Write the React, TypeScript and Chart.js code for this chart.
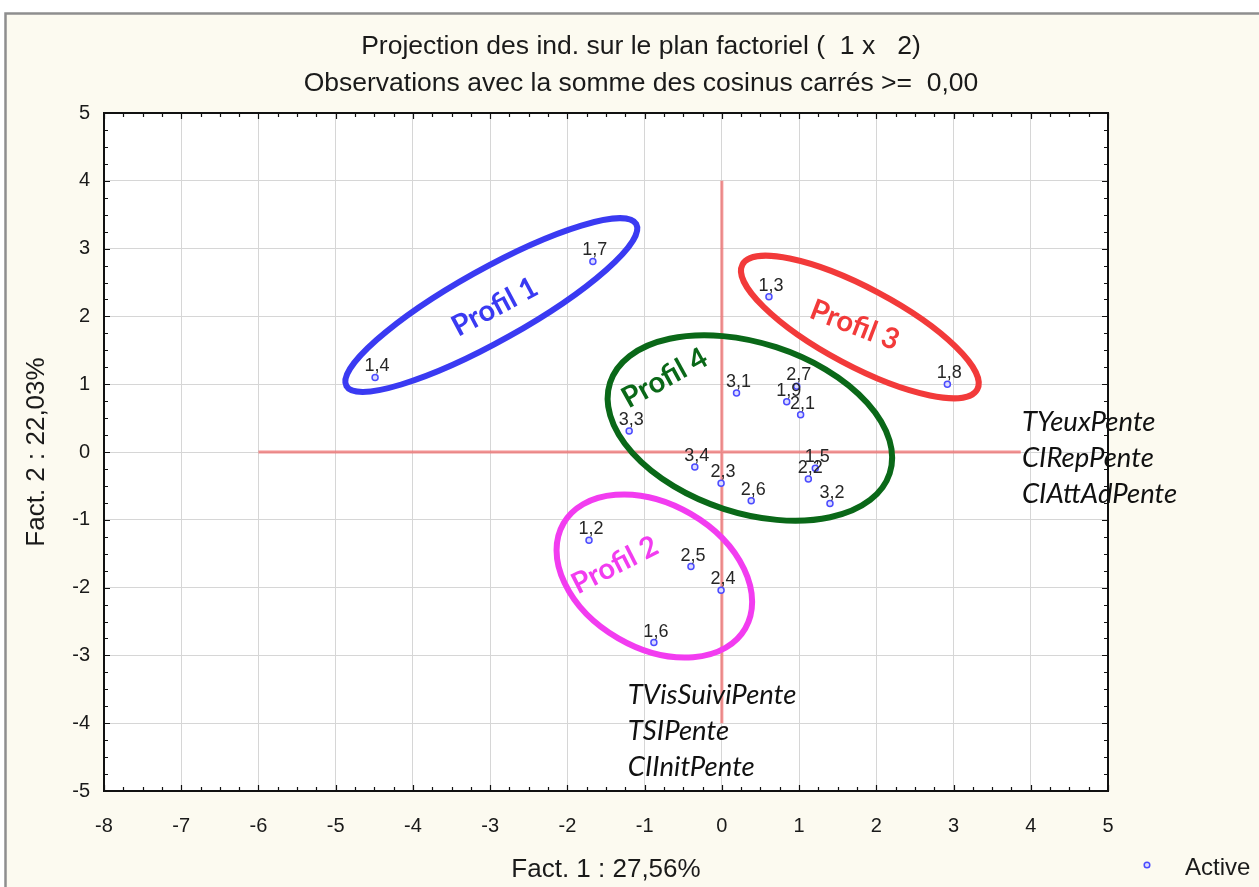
import React, { useEffect, useRef } from "react";
import { Chart, registerables } from "chart.js";

Chart.register(...registerables);

// ---------- data ----------
const pointLabels = ["1,7", "1,4", "1,3", "1,8", "3,1", "2,7", "1,9", "2,1", "3,3", "3,4", "2,3", "2,6", "1,5", "2,2", "3,2", "1,2", "2,5", "2,4", "1,6"];
const fact1 = [-1.67, -4.49, 0.61, 2.92, 0.19, 0.97, 0.84, 1.02, -1.2, -0.35, -0.01, 0.38, 1.21, 1.12, 1.4, -1.72, -0.4, -0.01, -0.88];
const fact2 = [2.81, 1.1, 2.29, 1.0, 0.87, 0.97, 0.74, 0.55, 0.31, -0.22, -0.46, -0.72, -0.24, -0.4, -0.76, -1.3, -1.69, -2.04, -2.81];

const xTickValues = [-8, -7, -6, -5, -4, -3, -2, -1, 0, 1, 2, 3, 4, 5];
const yTickValues = [-5, -4, -3, -2, -1, 0, 1, 2, 3, 4, 5];

const titleLines = [
  "Projection des ind. sur le plan factoriel (  1 x   2)",
  "Observations avec la somme des cosinus carrés >=  0,00",
];
const xAxisTitle = "Fact. 1 : 27,56%";
const yAxisTitle = "Fact. 2 : 22,03%";
const legendLabel = "Active";

// reference cross (data units)
const refHorizontal = [-6, 3.87]; // along y = 0
const refVertical = [-4, 4]; // along x = 0

// profile groups (ellipse centres and label anchors in data units)
const profileNames = ["Profil 1", "Profil 2", "Profil 3", "Profil 4"];
const profileCx = [-2.985, -0.874, 1.787, 0.363];
const profileCy = [2.168, -1.829, 1.844, 0.354];
const profileTextX = [-2.94, -1.385, 1.72, -0.74];
const profileTextY = [2.14, -1.667, 1.87, 1.09];

// variable annotations
const rightVars = ["TYeuxPente", "CIRepPente", "CIAttAdPente"];
const rightVarsAnchor = [3.885, 0.44];
const lowerVars = ["TVisSuiviPente", "TSIPente", "CIInitPente"];
const lowerVarsAnchor = [-1.217, -3.58];

// ---------- styles ----------
const PROFILE_STYLE = [
  { color: "#3a3af2", rx: 166, ry: 36, angle: -29.2, textAngle: -28 },
  { color: "#f23cf0", rx: 105, ry: 72, angle: 30, textAngle: -27 },
  { color: "#f23a3a", rx: 133, ry: 39, angle: 28, textAngle: 21 },
  { color: "#0a6818", rx: 147, ry: 85, angle: 18, textAngle: -29 },
];
const FONT = "'Liberation Sans', Arial, sans-serif";
const TEXT = "#1a1a1a";
const W = 1259;
const H = 887;

const decorPlugin = {
  id: "decor",
  beforeDraw(chart: any) {
    const { ctx, chartArea: a } = chart;
    ctx.save();
    ctx.fillStyle = "#ffffff";
    ctx.fillRect(0, 0, W, H);
    ctx.fillStyle = "#fcfaf0";
    ctx.fillRect(5, 13, W - 5, H - 13);
    ctx.strokeStyle = "#8e8e8e";
    ctx.lineWidth = 2.5;
    ctx.beginPath();
    ctx.moveTo(5.5, H);
    ctx.lineTo(5.5, 13.5);
    ctx.lineTo(W, 13.5);
    ctx.stroke();
    ctx.fillStyle = "#ffffff";
    ctx.fillRect(a.left, a.top, a.right - a.left, a.bottom - a.top);
    ctx.restore();
  },
  beforeDatasetsDraw(chart: any) {
    const { ctx, scales } = chart;
    const x = scales.x;
    const y = scales.y;
    ctx.save();
    ctx.strokeStyle = "rgba(238,110,110,0.75)";
    ctx.lineWidth = 3;
    ctx.beginPath();
    ctx.moveTo(x.getPixelForValue(refHorizontal[0]), y.getPixelForValue(0));
    ctx.lineTo(x.getPixelForValue(refHorizontal[1]), y.getPixelForValue(0));
    ctx.moveTo(x.getPixelForValue(0), y.getPixelForValue(refVertical[0]));
    ctx.lineTo(x.getPixelForValue(0), y.getPixelForValue(refVertical[1]));
    ctx.stroke();
    ctx.restore();
  },
  afterDatasetsDraw(chart: any) {
    const { ctx, scales, chartArea: a } = chart;
    const x = scales.x;
    const y = scales.y;
    ctx.save();

    // point labels
    ctx.font = `18px ${FONT}`;
    ctx.fillStyle = "#262626";
    ctx.textAlign = "center";
    ctx.textBaseline = "alphabetic";
    pointLabels.forEach((lab, i) => {
      const px = x.getPixelForValue(fact1[i]);
      const py = y.getPixelForValue(fact2[i]);
      ctx.fillText(lab, px + 2, py - 6);
    });

    // profile ellipses
    profileNames.forEach((name, i) => {
      const s = PROFILE_STYLE[i];
      const cx = x.getPixelForValue(profileCx[i]);
      const cy = y.getPixelForValue(profileCy[i]);
      ctx.save();
      ctx.strokeStyle = s.color;
      ctx.lineWidth = 6;
      ctx.beginPath();
      ctx.ellipse(cx, cy, s.rx, s.ry, (s.angle * Math.PI) / 180, 0, Math.PI * 2);
      ctx.stroke();
      ctx.restore();

      const tx = x.getPixelForValue(profileTextX[i]);
      const ty = y.getPixelForValue(profileTextY[i]);
      ctx.save();
      ctx.translate(tx, ty);
      ctx.rotate((s.textAngle * Math.PI) / 180);
      ctx.font = `bold 29px Lato, 'Open Sans', sans-serif`;
      ctx.fillStyle = s.color;
      ctx.textAlign = "center";
      ctx.textBaseline = "middle";
      ctx.fillText(name, 0, 0);
      ctx.restore();
    });

    // variable annotations
    ctx.font = `italic 27.5px Lato, 'Open Sans', sans-serif`;
    ctx.fillStyle = "#111111";
    ctx.textAlign = "left";
    ctx.textBaseline = "middle";
    const rx0 = x.getPixelForValue(rightVarsAnchor[0]);
    const ry0 = y.getPixelForValue(rightVarsAnchor[1]);
    rightVars.forEach((t, i) => ctx.fillText(t, rx0, ry0 + i * 36));
    const lx0 = x.getPixelForValue(lowerVarsAnchor[0]);
    const ly0 = y.getPixelForValue(lowerVarsAnchor[1]);
    lowerVars.forEach((t, i) => ctx.fillText(t, lx0, ly0 + i * 36));

    // plot frame and inward ticks
    ctx.strokeStyle = "#111111";
    ctx.lineWidth = 2;
    ctx.strokeRect(a.left, a.top, a.right - a.left, a.bottom - a.top);
    ctx.lineWidth = 1.2;
    ctx.beginPath();
    for (let v = xTickValues[0]; v <= xTickValues[xTickValues.length - 1] + 1e-9; v += 0.25) {
      const px = Math.round(x.getPixelForValue(v)) + 0.5;
      const major = Math.abs(v - Math.round(v)) < 1e-6;
      const len = major ? 6 : 4;
      ctx.moveTo(px, a.top);
      ctx.lineTo(px, a.top + len);
      ctx.moveTo(px, a.bottom);
      ctx.lineTo(px, a.bottom - len);
    }
    for (let v = yTickValues[0]; v <= yTickValues[yTickValues.length - 1] + 1e-9; v += 0.25) {
      const py = Math.round(y.getPixelForValue(v)) + 0.5;
      const major = Math.abs(v - Math.round(v)) < 1e-6;
      const len = major ? 6 : 4;
      ctx.moveTo(a.left, py);
      ctx.lineTo(a.left + len, py);
      ctx.moveTo(a.right, py);
      ctx.lineTo(a.right - len, py);
    }
    ctx.stroke();

    // title
    ctx.font = `26.5px ${FONT}`;
    ctx.fillStyle = TEXT;
    ctx.textAlign = "center";
    ctx.textBaseline = "middle";
    ctx.fillText(titleLines[0], 641, 47);
    ctx.fillText(titleLines[1], 641, 84);

    // legend
    ctx.strokeStyle = "#4b4bff";
    ctx.fillStyle = "#dcdcff";
    ctx.lineWidth = 1.5;
    ctx.beginPath();
    ctx.arc(1147, 865, 2.8, 0, Math.PI * 2);
    ctx.fill();
    ctx.stroke();
    ctx.font = `24px ${FONT}`;
    ctx.fillStyle = TEXT;
    ctx.textAlign = "left";
    ctx.fillText(legendLabel, 1185, 868);

    ctx.restore();
  },
};

export default function App() {
  const canvasRef = useRef<HTMLCanvasElement | null>(null);

  useEffect(() => {
    const canvas = canvasRef.current;
    if (!canvas) return;
    const points = fact1.map((v, i) => ({ x: v, y: fact2[i] }));
    const chart = new Chart(canvas, {
      type: "scatter",
      data: {
        datasets: [
          {
            label: legendLabel,
            data: points,
            pointRadius: 3,
            pointBorderWidth: 1.5,
            pointBorderColor: "#4b4bff",
            pointBackgroundColor: "#dcdcff",
          },
        ],
      },
      options: {
        responsive: false,
        animation: false,
        devicePixelRatio: 1,
        layout: { padding: { left: 0, top: 113, right: W - 1108, bottom: 0 } },
        plugins: { legend: { display: false }, tooltip: { enabled: false }, title: { display: false } },
        scales: {
          x: {
            type: "linear",
            position: "bottom",
            min: xTickValues[0],
            max: xTickValues[xTickValues.length - 1],
            afterBuildTicks: (s: any) => {
              s.ticks = xTickValues.map((v) => ({ value: v }));
            },
            afterFit: (s: any) => {
              s.height = 96;
            },
            ticks: { padding: 23, color: TEXT, font: { family: FONT, size: 20 } },
            grid: { color: "#d6d6d6", lineWidth: 1, drawTicks: false },
            border: { display: false },
            title: {
              display: true,
              text: xAxisTitle,
              color: TEXT,
              font: { family: FONT, size: 26 },
              padding: { top: 0, bottom: 1.5 },
            },
          },
          y: {
            type: "linear",
            position: "left",
            min: yTickValues[0],
            max: yTickValues[yTickValues.length - 1],
            afterBuildTicks: (s: any) => {
              s.ticks = yTickValues.map((v) => ({ value: v }));
            },
            afterFit: (s: any) => {
              s.width = 104;
            },
            ticks: { padding: 14, color: TEXT, font: { family: FONT, size: 20 } },
            grid: { color: "#d6d6d6", lineWidth: 1, drawTicks: false },
            border: { display: false },
            title: {
              display: true,
              text: yAxisTitle,
              color: TEXT,
              font: { family: FONT, size: 26 },
              padding: { top: 21, bottom: 0 },
            },
          },
        },
      },
      plugins: [decorPlugin],
    });
    return () => chart.destroy();
  }, []);

  return (
    <div style={{ position: "absolute", left: 0, top: 0, width: W, height: H }}>
      <canvas ref={canvasRef} width={W} height={H} style={{ display: "block", width: W, height: H }} />
    </div>
  );
}
